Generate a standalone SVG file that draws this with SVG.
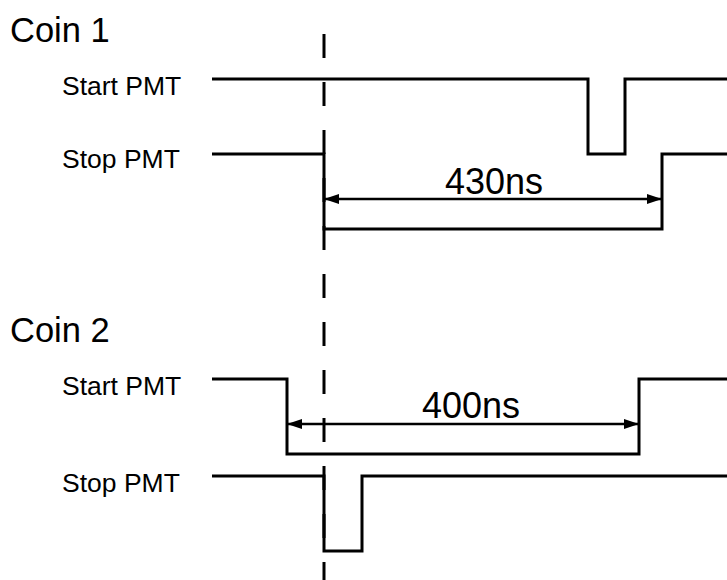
<svg xmlns="http://www.w3.org/2000/svg" width="727" height="580" viewBox="0 0 727 580">
<style>
.sig{fill:none;stroke:#000;stroke-width:3;stroke-linejoin:miter;stroke-linecap:butt}
.dim{fill:none;stroke:#000;stroke-width:2.5}
.title{font-family:"Liberation Sans",Arial,sans-serif;font-size:34.5px;fill:#000}
.lbl{font-family:"Liberation Sans",Arial,sans-serif;font-size:26.5px;fill:#000}
.val{font-family:"Liberation Sans",Arial,sans-serif;font-size:36px;fill:#000;text-anchor:middle}
</style>
<defs>
<marker id="ah" viewBox="0 0 15 10" refX="15" refY="5" markerWidth="15" markerHeight="10" markerUnits="userSpaceOnUse" orient="auto-start-reverse">
<path d="M0,0 L15,5 L0,10 z" fill="#000"/>
</marker>
</defs>
<rect width="727" height="580" fill="#fff"/>
<g id="coin1">
<text class="title" x="10" y="42">Coin 1</text>
<g id="coin1-start"><text class="lbl" x="62" y="95">Start PMT</text>
<path class="sig" d="M212,79 H588 V154 H625 V79 H727"/></g>
<g id="coin1-stop"><text class="lbl" x="62" y="168">Stop PMT</text>
<path class="sig" d="M212,154 H324 V229 H662 V154 H727"/></g>
</g>
<g id="coin2">
<text class="title" x="10" y="342">Coin 2</text>
<g id="coin2-start"><text class="lbl" x="62" y="395">Start PMT</text>
<path class="sig" d="M212,379 H287 V454 H639 V379 H727"/></g>
<g id="coin2-stop"><text class="lbl" x="62" y="492">Stop PMT</text>
<path class="sig" d="M212,476 H324 V551 H362 V476 H727"/></g>
</g>
<g id="connectors">
<line x1="324" y1="34" x2="324" y2="580" stroke="#000" stroke-width="3" stroke-dasharray="24 24"/>
<line class="dim" x1="324" y1="199" x2="662" y2="199" marker-start="url(#ah)" marker-end="url(#ah)"/>
<text class="val" x="494" y="194">430ns</text>
<line class="dim" x1="287" y1="424" x2="639" y2="424" marker-start="url(#ah)" marker-end="url(#ah)"/>
<text class="val" x="471" y="418">400ns</text>
</g>
</svg>
